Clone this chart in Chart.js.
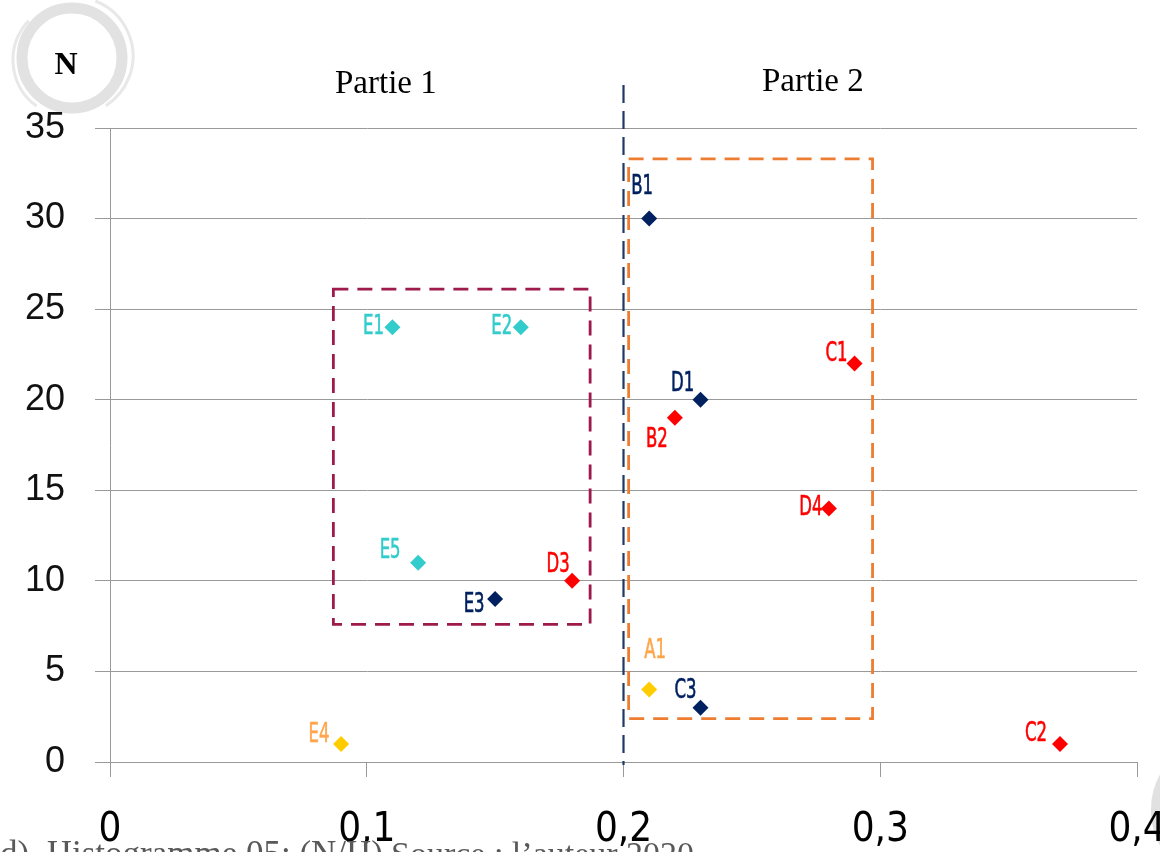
<!DOCTYPE html>
<html lang="fr">
<head>
<meta charset="UTF-8">
<title>Histogramme 05 (N/H)</title>
<style>
    html, body { margin: 0; padding: 0; background: #fff; overflow: hidden; }
    #wrap { width: 1160px; height: 852px; }
</style>
<script src="https://cdn.jsdelivr.net/npm/chart.js"></script>
</head>
<body>
<div id="wrap"><canvas id="graphe" width="1160" height="852"></canvas></div>
<script>
// points par couleur : x = H, y = N
const navyNames = ['B1', 'D1', 'E3', 'C3'];
const navyX = [0.21, 0.23, 0.15, 0.23];
const navyY = [30, 20, 9, 3];

const redNames = ['C1', 'B2', 'D4', 'D3', 'C2'];
const redX = [0.29, 0.22, 0.28, 0.18, 0.37];
const redY = [22, 19, 14, 10, 1];

const cyanNames = ['E1', 'E2', 'E5'];
const cyanX = [0.11, 0.16, 0.12];
const cyanY = [24, 24, 11];

const yellowNames = ['A1', 'E4'];
const yellowX = [0.21, 0.09];
const yellowY = [4, 1];

const xTicks = [0, 0.1, 0.2, 0.3, 0.4];
const yTicks = [0, 5, 10, 15, 20, 25, 30, 35];

// cadres en pointillés [xmin, xmax, ymin, ymax] et séparation
const boxPartie1 = [0.087, 0.187, 7.6, 26.1];
const boxPartie2 = [0.202, 0.297, 2.4, 33.3];
const separation = 0.2;

// décalage des étiquettes (px) par rapport au point
const labelOffset = {
    B1: [-7, -32], D1: [-18, -16], E3: [-21, 6], C3: [-15, -17],
    C1: [-18, -10], B2: [-18, 22], D4: [-18, 0], D3: [-14, -16], C2: [-24, -10],
    E1: [-19, 0], E2: [-19, 0], E5: [-28, -12],
    A1: [6, -39], E4: [-22, -9]
};

function serie(names, xs, ys, color, labelColor) {
    return {
        label: names.join(','),
        names: names,
        labelColor: labelColor,
        data: xs.map((x, i) => ({ x: x, y: ys[i] })),
        backgroundColor: color,
        borderColor: color,
        borderWidth: 0,
        pointStyle: 'rectRot',
        pointRadius: 8,
        pointHoverRadius: 8
    };
}

const decor = {
    id: 'decor',
    beforeDraw(chart) {
        const ctx = chart.ctx;
        ctx.save();
        ctx.fillStyle = '#fff';
        ctx.fillRect(0, 0, chart.width, chart.height);
        // anneaux gris (logo)
        ctx.strokeStyle = 'rgba(190,190,190,0.45)';
        ctx.lineWidth = 11;
        ctx.beginPath(); ctx.arc(72, 58, 50, 0, Math.PI * 2); ctx.stroke();
        ctx.lineWidth = 3;
        ctx.strokeStyle = 'rgba(190,190,190,0.35)';
        ctx.beginPath(); ctx.arc(74, 56, 59, -1.2, 1.0); ctx.stroke();
        ctx.beginPath(); ctx.arc(70, 60, 57, 2.2, 3.9); ctx.stroke();
        ctx.lineWidth = 12;
        ctx.strokeStyle = 'rgba(170,170,170,0.35)';
        ctx.beginPath(); ctx.arc(1225, 810, 68, 2.3, 4.2); ctx.stroke();
        ctx.restore();
    },
    beforeDatasetsDraw(chart) {
        const ctx = chart.ctx, sx = chart.scales.x, sy = chart.scales.y;
        ctx.save();
        ctx.setLineDash([15, 9]);
        ctx.lineWidth = 2.8;
        ctx.strokeStyle = '#9e1a4a';
        ctx.strokeRect(sx.getPixelForValue(boxPartie1[0]), sy.getPixelForValue(boxPartie1[3]),
            sx.getPixelForValue(boxPartie1[1]) - sx.getPixelForValue(boxPartie1[0]),
            sy.getPixelForValue(boxPartie1[2]) - sy.getPixelForValue(boxPartie1[3]));
        ctx.strokeStyle = '#ed7d31';
        ctx.strokeRect(sx.getPixelForValue(boxPartie2[0]), sy.getPixelForValue(boxPartie2[3]),
            sx.getPixelForValue(boxPartie2[1]) - sx.getPixelForValue(boxPartie2[0]),
            sy.getPixelForValue(boxPartie2[2]) - sy.getPixelForValue(boxPartie2[3]));
        // ligne de séparation
        const xs = sx.getPixelForValue(separation);
        ctx.setLineDash([18, 8]);
        ctx.lineWidth = 2.2;
        ctx.strokeStyle = '#1f3864';
        ctx.beginPath(); ctx.moveTo(xs, 85); ctx.lineTo(xs, sy.bottom + 3); ctx.stroke();
        ctx.restore();
    },
    afterDatasetsDraw(chart) {
        const ctx = chart.ctx;
        ctx.save();
        ctx.font = '27px "Liberation Sans Narrow", "DejaVu Sans Condensed", sans-serif';
        ctx.textAlign = 'center';
        ctx.textBaseline = 'middle';
        chart.data.datasets.forEach((ds, di) => {
            const meta = chart.getDatasetMeta(di);
            ds.names.forEach((name, i) => {
                const p = meta.data[i];
                const off = labelOffset[name];
                ctx.save();
                ctx.translate(p.x + off[0], p.y + off[1]);
                ctx.scale(0.68, 1);
                ctx.fillStyle = ds.labelColor;
                ctx.strokeStyle = ds.labelColor;
                ctx.lineWidth = 0.6;
                ctx.fillText(name, 0, 0);
                ctx.strokeText(name, 0, 0);
                ctx.restore();
            });
        });
        // textes
        ctx.fillStyle = '#000';
        ctx.textBaseline = 'alphabetic';
        ctx.font = 'bold 32px "Liberation Serif", serif';
        ctx.fillText('N', 66, 74);
        ctx.textAlign = 'left';
        ctx.font = '33px "Liberation Serif", serif';
        ctx.fillText('Partie 1', 335, 93);
        ctx.fillText('Partie 2', 762, 91);
        ctx.fillStyle = '#595959';
        ctx.font = '35px "Liberation Serif", serif';
        ctx.fillText('d)  Histogramme 05: (N/H)', 0, 865);
        ctx.font = '34px "Liberation Serif", serif';
        ctx.fillText('Source : l\u2019auteur 2020', 391, 865);
        ctx.restore();
    }
};

new Chart(document.getElementById('graphe'), {
    type: 'scatter',
    data: {
        datasets: [
            serie(navyNames, navyX, navyY, '#002060', '#002060'),
            serie(redNames, redX, redY, '#ff0000', '#ff0000'),
            serie(cyanNames, cyanX, cyanY, '#33cccc', '#33cccc'),
            serie(yellowNames, yellowX, yellowY, '#ffcc00', '#ffa64d')
        ]
    },
    options: {
        responsive: false,
        devicePixelRatio: 1,
        animation: false,
        events: [],
        layout: { padding: { top: 128, left: 0, right: 23, bottom: 0 } },
        plugins: { legend: { display: false }, tooltip: { enabled: false } },
        scales: {
            x: {
                type: 'linear',
                min: 0,
                max: 0.4,
                afterBuildTicks: s => { s.ticks = xTicks.map(v => ({ value: v })); },
                afterFit: s => { s.height = 90; s.paddingLeft = 0; s.paddingRight = 0; },
                ticks: {
                    color: '#000',
                    padding: 30,
                    maxRotation: 0,
                    font: { family: '"Liberation Sans Narrow", "DejaVu Sans Condensed", sans-serif', size: 40 },
                    callback: v => v === 0 ? '0' : v.toFixed(1).replace('.', ',')
                },
                grid: { drawOnChartArea: false, tickLength: 15, color: '#999', lineWidth: 1 },
                border: { color: '#999', width: 1 }
            },
            y: {
                min: 0,
                max: 35,
                afterBuildTicks: s => { s.ticks = yTicks.map(v => ({ value: v })); },
                afterFit: s => { s.width = 110; s.paddingTop = 0; s.paddingBottom = 0; },
                ticks: {
                    color: '#111',
                    padding: 30,
                    font: { family: '"Liberation Sans", sans-serif', size: 36 }
                },
                grid: { color: '#999', lineWidth: 1, tickLength: 15 },
                border: { color: '#999', width: 1 }
            }
        }
    },
    plugins: [decor]
});
</script>
</body>
</html>
